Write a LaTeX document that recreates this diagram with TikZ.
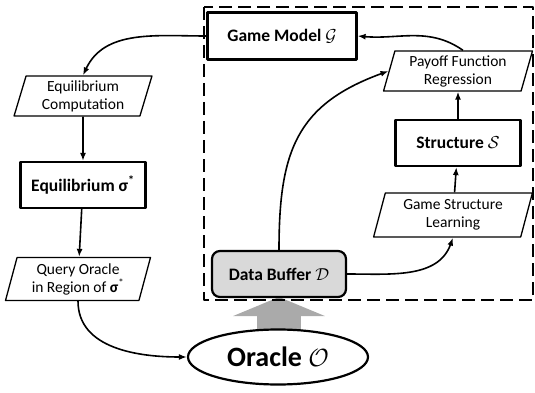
\documentclass[tikz,border=0pt]{standalone}
\usepackage{fontspec}
\setmainfont{Carlito}
\usepackage{amsmath}
\usetikzlibrary{shapes,arrows.meta,calc}
\definecolor{arrowgray}{RGB}{170,170,170}
\definecolor{buffergray}{RGB}{217,217,217}

\begin{document}
\begin{tikzpicture}[x=1pt, y=1pt, line join=round,
  box/.style={draw, line width=2.2pt, minimum width=125pt, minimum height=46pt, font=\fontsize{17.5}{20}\selectfont\bfseries},
  para/.style={draw, line width=1.3pt, trapezium, trapezium left angle=75, trapezium right angle=105, trapezium stretches=true, align=center, inner sep=1pt, font=\fontsize{15.5}{18}\selectfont},
  flow/.style={-{Latex[length=8pt,width=6pt]}, line width=1.6pt}]

\useasboundingbox (0,0) rectangle (535,-393);

\draw[line width=44pt, draw=arrowgray, -{Triangle[length=19pt,width=91pt]}] (279,-340) -- (279,-297);

\node[box, minimum width=149pt, minimum height=47pt] (model) at (282,-36) {Game Model $\mathcal{G}$};
\node[para, minimum width=138pt, minimum height=40pt] (eqcomp) at (83,-96) {Equilibrium\\Computation};
\node[box] (eq) at (83,-185) {Equilibrium σ\textsuperscript{*}};
\node[para, minimum width=145pt, minimum height=43pt] (query) at (78,-279) {Query Oracle\\in Region of \textbf{σ}\textsuperscript{*}};

\node[para, minimum width=149pt, minimum height=40pt] (payoff) at (458,-71) {Payoff Function\\Regression};
\node[box] (struct) at (458,-143) {Structure $\mathcal{S}$};
\node[para, minimum width=159pt, minimum height=44pt] (gsl) at (453,-215) {Game Structure\\Learning};

\node[box, fill=buffergray, rounded corners=8pt, minimum width=134pt] (buffer) at (279,-274) {Data Buffer $\mathcal{D}$};
\node[draw, ellipse, fill=white, line width=2.2pt, minimum width=180pt, minimum height=55pt, font=\fontsize{28}{32}\selectfont\bfseries] (oracle) at (278,-357) {Oracle $\mathcal{O}$};

\draw[dashed, line width=2pt, dash pattern=on 13pt off 6pt] (204,-7) rectangle (533,-300);

\draw[flow] (model.west) to[out=180, in=65] (eqcomp.north);
\draw[flow] (eqcomp) -- (eq);
\draw[flow] (eq) -- (query);
\draw[flow] (query.south) to[out=-90, in=180] (oracle.west);

\draw[flow] (buffer.north) to[out=90, in=200, looseness=1.2] (payoff.west);
\draw[flow] (buffer.east) to[out=0, in=-110] (gsl.south);
\draw[flow] (gsl) -- (struct);
\draw[flow] (struct) -- (payoff);
\draw[flow] ($(payoff.north)+(5,0)$) to[out=145, in=-5] (model.east);

\end{tikzpicture}
\end{document}
